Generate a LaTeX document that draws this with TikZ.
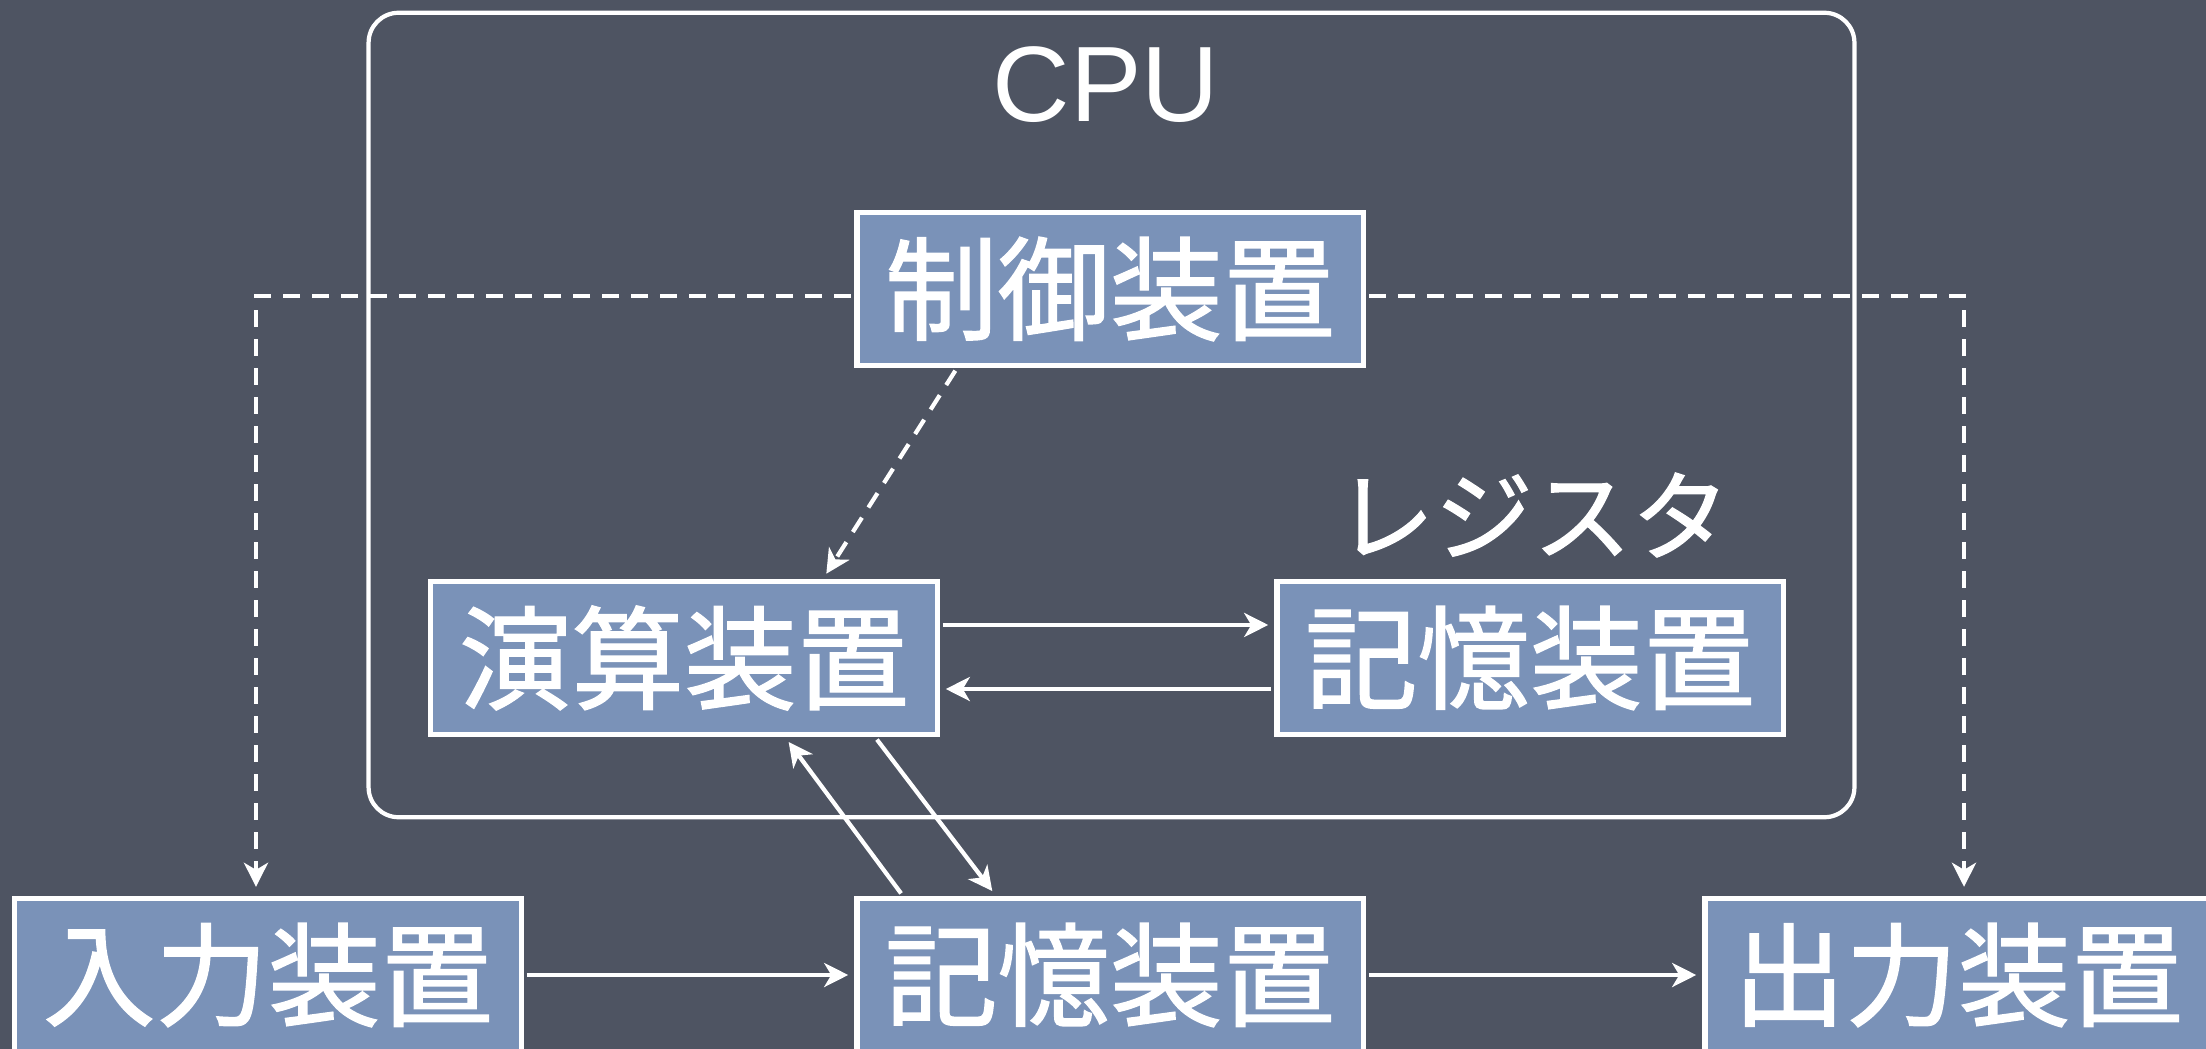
\documentclass[tikz,border=0pt]{standalone}
\usepackage{fontspec}
\setmainfont{Liberation Sans}
\newfontfamily\jp[FakeBold=1.2]{Noto Sans CJK JP}
\usetikzlibrary{arrows.meta}
\definecolor{bg}{RGB}{78,84,98}
\definecolor{boxfill}{RGB}{122,146,184}
\begin{document}
\begin{tikzpicture}[x=0.01cm,y=-0.01cm,
  unit/.style={draw=white, line width=1.5pt, fill=boxfill, minimum width=5.06cm, minimum height=1.53cm, inner sep=0pt, text=white, font=\jp\fontsize{32}{32}\selectfont},
  flow/.style={draw=white, line width=1.2pt, -{Stealth[length=0.24cm,width=0.24cm,inset=0.07cm]}, shorten >=0.06cm, shorten <=0.03cm},
  ctl/.style={flow, dash pattern=on 0.17cm off 0.12cm},
  frame/.style={draw=white, line width=1.2pt, rounded corners=0.3cm, minimum width=14.85cm, minimum height=8.04cm, inner sep=0pt},
  lbl/.style={text=white, inner sep=0pt}
]
\useasboundingbox (0,0) rectangle (2206,1049);
\fill[bg] (0,0) rectangle (2206,1049);
\node[frame] (cpu) at (1111.5,415) {};
\node[lbl, font=\fontsize{30.5}{30.5}\selectfont] (cputxt) at (1106,85) {CPU};
\node[lbl, font=\jp\fontsize{28}{28}\selectfont] (regtxt) at (1533,515) {レジスタ};
\node[unit] (ctrl) at (1110,289) {制御装置};
\node[unit] (alu) at (684,658) {演算装置};
\node[unit] (reg) at (1530,658) {記憶装置};
\node[unit] (inp) at (268,975) {入力装置};
\node[unit] (mem) at (1110,975) {記憶装置};
\node[unit] (out) at (1958,975) {出力装置};
\draw[ctl, shorten >=0.09cm] ([yshift=-0.07cm]ctrl.west) -| ([xshift=-0.12cm]inp.north);
\draw[ctl, shorten >=0.09cm] ([yshift=-0.07cm]ctrl.east) -| ([xshift=0.06cm]out.north);
\draw[ctl] ([xshift=-1.53cm]ctrl.south) -- ([xshift=1.39cm]alu.north);
\draw[flow] ([yshift=0.33cm]alu.east) -- ([yshift=0.33cm]reg.west);
\draw[flow] ([yshift=-0.31cm]reg.west) -- ([yshift=-0.31cm]alu.east);
\draw[flow] ([xshift=-2.07cm]mem.north) -- ([xshift=1.01cm]alu.south);
\draw[flow] ([xshift=1.91cm]alu.south) -- ([xshift=-1.14cm]mem.north);
\draw[flow] (inp.east) -- (mem.west);
\draw[flow] (mem.east) -- (out.west);
\end{tikzpicture}
\end{document}
